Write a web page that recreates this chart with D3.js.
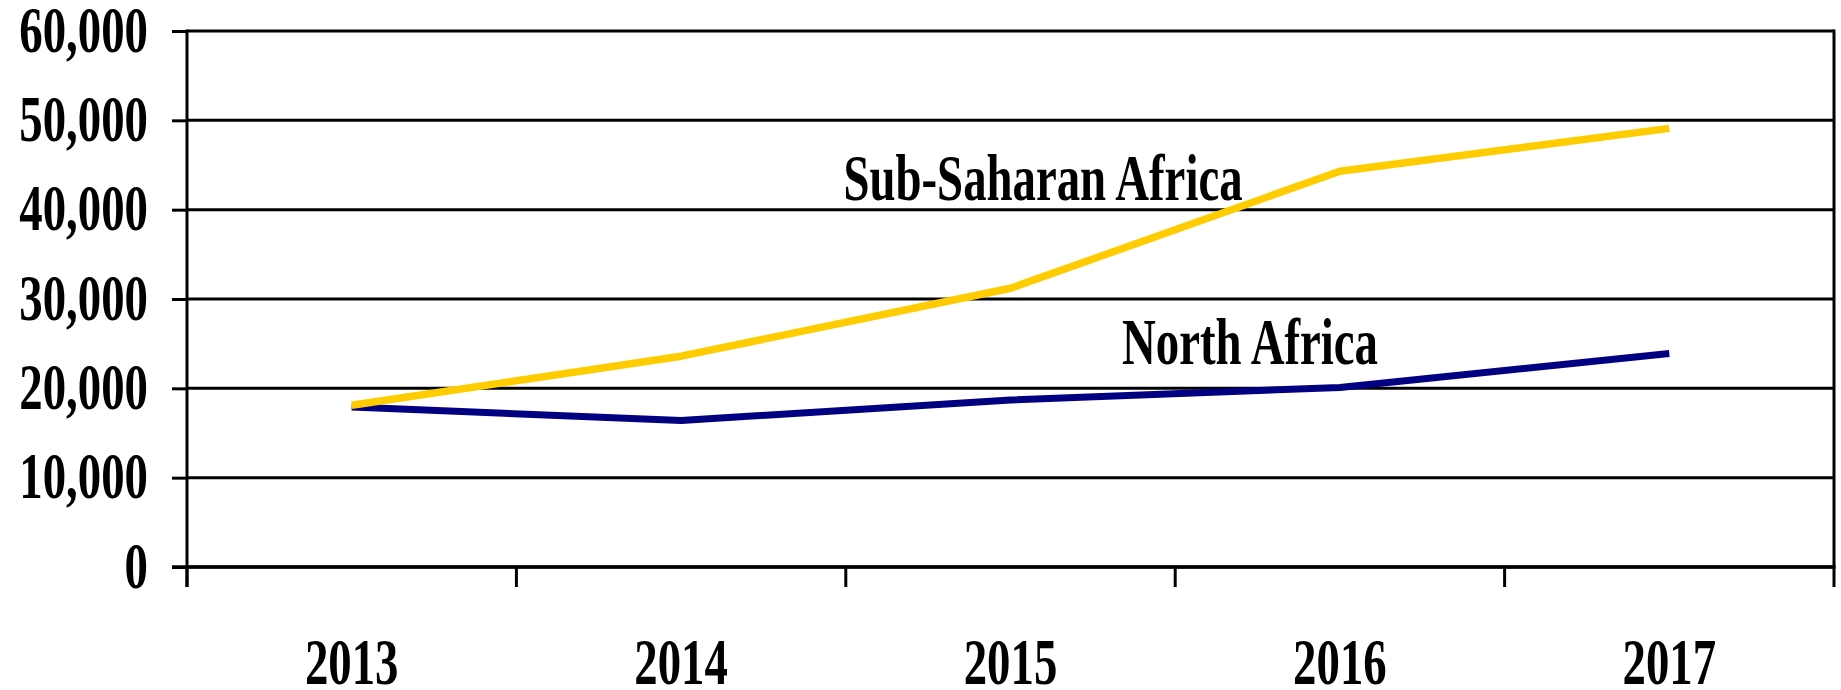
<!DOCTYPE html>
<html>
<head>
    <meta charset="utf-8">
    <style>
        body {
            margin: 0;
            background: #fff;
        }

        svg {
            display: block;
        }

        text {
            font-family: 'Times New Roman', 'Liberation Serif', serif;
            font-weight: bold;
            font-size: 65px;
            fill: #000;
        }
    </style>
</head>
<body>
<svg id="chart"></svg>

<script src="https://d3js.org/d3.v7.min.js"></script>
<script>
    // values
    const years = ["2013", "2014", "2015", "2016", "2017"];
    const northAfrica = [17900, 16400, 18700, 20100, 23900];
    const subSaharan = [18100, 23600, 31200, 44300, 49100];
    const yTicks = [0, 10000, 20000, 30000, 40000, 50000, 60000];

    let width = 1841;
    let height = 690;
    let margin = { top: 31, right: 7, bottom: 123, left: 187 };
    let squeeze = 0.72; // the font in the picture is narrowed

    let svg = d3.select("#chart")
        .attr("width", width)
        .attr("height", height);

    let x = d3.scaleBand()
        .domain(years)
        .range([margin.left, width - margin.right])
        .padding(0);

    let y = d3.scaleLinear()
        .domain([0, 60000])
        .range([height - margin.bottom, margin.top]);

    // horizontal grid
    svg.append("g")
        .attr("class", "grid")
        .selectAll("line")
        .data(yTicks)
        .join("line")
        .attr("x1", margin.left)
        .attr("x2", width - margin.right)
        .attr("y1", d => y(d))
        .attr("y2", d => y(d))
        .attr("stroke", "#000")
        .attr("stroke-width", 3);

    // right border of the plot
    svg.append("line")
        .attr("x1", width - margin.right)
        .attr("x2", width - margin.right)
        .attr("y1", y(60000) - 1.5)
        .attr("y2", y(0))
        .attr("stroke", "#000")
        .attr("stroke-width", 3);

    // y axis
    let yAxis = svg.append("g")
        .attr("transform", `translate(${margin.left},0)`)
        .call(d3.axisLeft(y)
            .tickValues(yTicks)
            .tickSize(15)
            .tickFormat(d3.format(",")))
    yAxis.select(".domain")
        .attr("stroke", "#000")
        .attr("stroke-width", 3)
        .attr("d", `M0,${y(60000) - 1.5}V${y(0) + 20}`);
    yAxis.selectAll(".tick line")
        .attr("stroke", "#000")
        .attr("stroke-width", 3);
    yAxis.selectAll(".tick text")
        .attr("x", 0)
        .attr("dy", "0.31em")
        .attr("text-anchor", "end")
        .attr("transform", `translate(-39,0) scale(${squeeze},1)`)
        .style("font-size", "65px");
    yAxis.attr("font-family", null).attr("font-size", null);

    // x axis: ticks at band edges, labels at band centres
    let edges = years.map(d => x(d)).concat([x.range()[1]]);
    svg.append("g")
        .selectAll("line")
        .data(edges)
        .join("line")
        .attr("x1", d => d)
        .attr("x2", d => d)
        .attr("y1", y(0))
        .attr("y2", y(0) + 20)
        .attr("stroke", "#000")
        .attr("stroke-width", 3);

    svg.append("line")
        .attr("x1", margin.left - 15)
        .attr("x2", width - margin.right + 1.5)
        .attr("y1", y(0))
        .attr("y2", y(0))
        .attr("stroke", "#000")
        .attr("stroke-width", 3.5);

    svg.append("g")
        .selectAll("text")
        .data(years)
        .join("text")
        .attr("text-anchor", "middle")
        .attr("transform", d => `translate(${x(d) + x.bandwidth() / 2},${height - 6}) scale(${squeeze},1)`)
        .text(d => d);

    // lines
    let line = d3.line()
        .x((d, i) => x(years[i]) + x.bandwidth() / 2)
        .y(d => y(d));

    svg.append("path")
        .datum(northAfrica)
        .attr("fill", "none")
        .attr("stroke", "#000080")
        .attr("stroke-width", 7)
        .attr("stroke-linejoin", "round")
        .attr("d", line);

    svg.append("path")
        .datum(subSaharan)
        .attr("fill", "none")
        .attr("stroke", "#FFCC00")
        .attr("stroke-width", 7.5)
        .attr("stroke-linejoin", "round")
        .attr("d", line);

    // series labels
    svg.append("text")
        .attr("text-anchor", "middle")
        .attr("transform", `translate(1043,200) scale(${squeeze},1)`)
        .text("Sub-Saharan Africa");

    svg.append("text")
        .attr("text-anchor", "middle")
        .attr("transform", `translate(1250,364) scale(${squeeze},1)`)
        .text("North Africa");
</script>
</body>
</html>
